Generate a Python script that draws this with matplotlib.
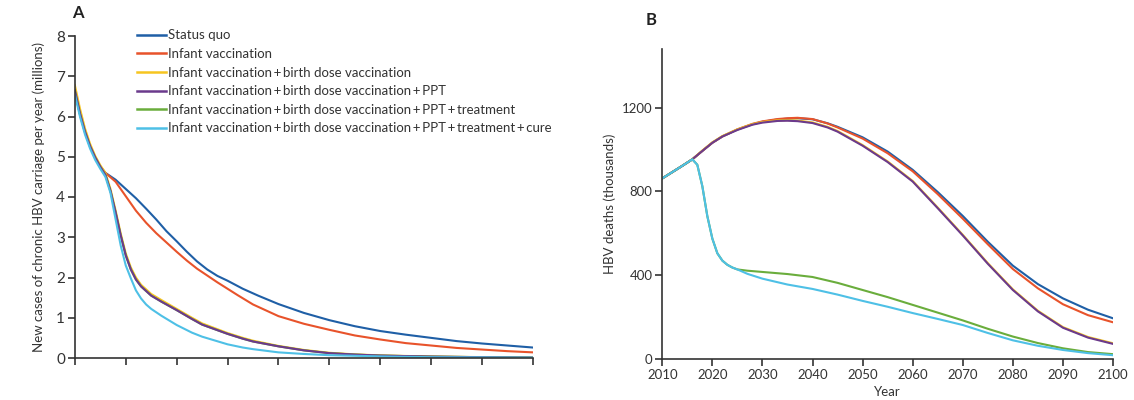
import numpy as np
import matplotlib
matplotlib.use('Agg')
import matplotlib.pyplot as plt

plt.rcParams['font.family'] = ['Lato', 'DejaVu Sans']

# ---- panel A: new chronic HBV cases (millions per year) ----
sq_yr = [2010, 2011, 2012, 2013, 2014, 2015, 2016, 2018, 2020, 2022, 2024, 2026, 2028, 2030,
         2032, 2034, 2036, 2038, 2040, 2043, 2046, 2050, 2055, 2060, 2065, 2070, 2075, 2080,
         2085, 2090, 2095, 2100]
sq_a = [6.62, 6.05, 5.6, 5.25, 4.98, 4.75, 4.6, 4.43, 4.2, 3.97, 3.71, 3.44, 3.15, 2.9,
        2.64, 2.4, 2.2, 2.04, 1.92, 1.72, 1.55, 1.34, 1.12, 0.94, 0.79, 0.67, 0.58, 0.5,
        0.42, 0.36, 0.31, 0.26]

inf_yr = [2010, 2011, 2012, 2013, 2014, 2015, 2016, 2018, 2020, 2022, 2024, 2026, 2028, 2030,
          2032, 2034, 2036, 2038, 2040, 2042, 2045, 2050, 2055, 2060, 2065, 2070, 2075, 2080,
          2085, 2090, 2095, 2100]
inf_a = [6.64, 6.07, 5.62, 5.26, 4.99, 4.76, 4.6, 4.38, 4.02, 3.66, 3.36, 3.1, 2.87, 2.64,
         2.42, 2.22, 2.05, 1.88, 1.72, 1.56, 1.33, 1.04, 0.85, 0.7, 0.56, 0.46, 0.37, 0.31,
         0.25, 0.21, 0.17, 0.14]

ppt_yr = [2010, 2011, 2012, 2013, 2014, 2015, 2016, 2017, 2018, 2019, 2020, 2021, 2022, 2023, 2025,
          2027, 2030, 2033, 2035, 2040, 2043, 2045, 2050, 2055, 2060, 2065, 2070, 2080, 2090, 2100]
bd_a = [6.78, 6.2, 5.7, 5.32, 5.02, 4.79, 4.6, 4.2, 3.67, 3.1, 2.6, 2.25, 2.0, 1.82, 1.59,
        1.44, 1.22, 1.0, 0.86, 0.62, 0.5, 0.43, 0.3, 0.2, 0.13, 0.09, 0.065, 0.037, 0.022, 0.012]
ppt_a = [6.65, 6.08, 5.62, 5.26, 4.98, 4.75, 4.55, 4.15, 3.62, 3.05, 2.55, 2.2, 1.95, 1.78, 1.55,
         1.4, 1.19, 0.97, 0.83, 0.6, 0.48, 0.41, 0.29, 0.19, 0.12, 0.085, 0.06, 0.035, 0.02, 0.01]
trt_a = ppt_a

cure_yr = [2010, 2011, 2012, 2013, 2014, 2015, 2016, 2017, 2018, 2019, 2020, 2021, 2022, 2023, 2024,
           2025, 2027, 2030, 2033, 2035, 2040, 2043, 2045, 2050, 2055, 2060, 2070, 2080, 2090, 2100]
cure_a = [6.55, 6.0, 5.55, 5.2, 4.92, 4.7, 4.5, 4.1, 3.45, 2.8, 2.3, 1.98, 1.68, 1.48, 1.33,
          1.22, 1.05, 0.82, 0.63, 0.53, 0.34, 0.26, 0.22, 0.14, 0.1, 0.07, 0.04, 0.02, 0.015, 0.01]

# ---- panel B: HBV deaths (thousands) ----
b_yr = [2010, 2012, 2014, 2016, 2018, 2020, 2022, 2025, 2028, 2030, 2033, 2035, 2037, 2040, 2043,
        2045, 2050, 2055, 2060, 2065, 2070, 2075, 2080, 2085, 2090, 2095, 2100]
sq_b = [862, 892, 922, 953, 993, 1032, 1062, 1095, 1120, 1132, 1143, 1147, 1149, 1144, 1125,
        1108, 1058, 990, 903, 797, 683, 560, 446, 358, 290, 236, 195]
inf_b = [862, 892, 922, 953, 993, 1032, 1062, 1096, 1122, 1134, 1145, 1149, 1151, 1145, 1124,
         1105, 1052, 982, 896, 787, 670, 548, 430, 338, 262, 210, 176]
bd_b = [862, 892, 922, 953, 995, 1034, 1064, 1096, 1121, 1131, 1139, 1140, 1138, 1129, 1108,
        1088, 1021, 943, 850, 723, 593, 458, 333, 231, 153, 106, 76]
ppt_b = [862, 892, 922, 953, 993, 1032, 1062, 1093, 1118, 1128, 1136, 1137, 1135, 1126, 1105,
         1085, 1018, 940, 847, 720, 590, 455, 330, 228, 150, 103, 73]

trt_yr = [2010, 2012, 2014, 2016, 2017, 2018, 2019, 2020, 2021, 2022, 2023, 2024, 2025, 2027,
          2030, 2035, 2040, 2045, 2050, 2055, 2060, 2065, 2070, 2075, 2080, 2085, 2090, 2095, 2100]
trt_b = [862, 892, 922, 953, 927, 825, 682, 575, 505, 470, 450, 437, 428, 422,
         416, 406, 392, 364, 330, 296, 259, 222, 185, 145, 108, 77, 52, 34, 24]
cure_b = [862, 892, 922, 953, 927, 825, 682, 575, 505, 470, 450, 437, 428, 407,
          384, 356, 335, 308, 278, 250, 220, 192, 163, 125, 90, 64, 44, 29, 19]

sep = '\u2009+\u2009'
labels = ['Status quo',
          'Infant vaccination',
          'Infant vaccination' + sep + 'birth dose vaccination',
          'Infant vaccination' + sep + 'birth dose vaccination' + sep + 'PPT',
          'Infant vaccination' + sep + 'birth dose vaccination' + sep + 'PPT' + sep + 'treatment',
          'Infant vaccination' + sep + 'birth dose vaccination' + sep + 'PPT' + sep + 'treatment'
          + sep + 'cure']
colors = ['#1f5fa6', '#e8532b', '#f6c520', '#6b3a8c', '#6aad3c', '#4ec0e6']

fig = plt.figure(figsize=(11.34, 4.0), dpi=100)
axA = fig.add_axes([0.066, 0.105, 0.404, 0.805])
axB = fig.add_axes([0.584, 0.102, 0.3975, 0.776])

lw = 1.5
ha = []
ha.append(axA.plot(sq_yr, sq_a, color=colors[0], lw=lw)[0])
ha.append(axA.plot(inf_yr, inf_a, color=colors[1], lw=lw)[0])
ha.append(axA.plot(ppt_yr, bd_a, color=colors[2], lw=lw)[0])
h_trt = axA.plot(ppt_yr, trt_a, color=colors[4], lw=lw)[0]
h_ppt = axA.plot(ppt_yr, ppt_a, color=colors[3], lw=lw)[0]
ha.append(h_ppt)
ha.append(h_trt)
ha.append(axA.plot(cure_yr, cure_a, color=colors[5], lw=lw)[0])

axB.plot(b_yr, sq_b, color=colors[0], lw=lw)
axB.plot(b_yr, inf_b, color=colors[1], lw=lw)
axB.plot(b_yr, bd_b, color=colors[2], lw=lw)
axB.plot(b_yr, ppt_b, color=colors[3], lw=lw)
axB.plot(trt_yr, trt_b, color=colors[4], lw=lw)
axB.plot(trt_yr, cure_b, color=colors[5], lw=lw)

for ax in (axA, axB):
    for s in ('top', 'right'):
        ax.spines[s].set_visible(False)
    for s in ('left', 'bottom'):
        ax.spines[s].set_color('#333333')
        ax.spines[s].set_linewidth(1.2)
    ax.tick_params(direction='out', length=5, width=1.2, color='#333333', labelcolor='#333333')
    ax.set_xlim(2010, 2100)
    ax.set_xticks(np.arange(2010, 2101, 10))

axA.set_ylim(0, 8)
axA.set_yticks(range(0, 9))
axA.tick_params(axis='y', labelsize=11, pad=2)
axA.set_xticklabels([])
axA.set_ylabel('New cases of chronic HBV carriage per year (millions)', fontsize=9.5, color='#333333', labelpad=8)

axB.set_ylim(0, 1480)
axB.set_yticks([0, 400, 800, 1200])
axB.tick_params(labelsize=9.5, pad=2)
axB.set_ylabel('HBV deaths (thousands)', fontsize=9.5, color='#333333', labelpad=4)
axB.set_xlabel('Year', fontsize=9.5, color='#333333', labelpad=4)

leg = axA.legend(ha, labels, loc='upper left', bbox_to_anchor=(0.125, 1.037), frameon=False,
                 fontsize=9.5, handlelength=2.2, handletextpad=0.15, labelspacing=0.5,
                 borderaxespad=0)
for t in leg.get_texts():
    t.set_color('#333333')
for h in leg.legend_handles:
    h.set_linewidth(1.8)

fig.text(0.064, 0.955, 'A', fontsize=12, fontweight='bold', color='#222222')
fig.text(0.569, 0.937, 'B', fontsize=12, fontweight='bold', color='#222222')

fig.savefig('out.png', dpi=100)
